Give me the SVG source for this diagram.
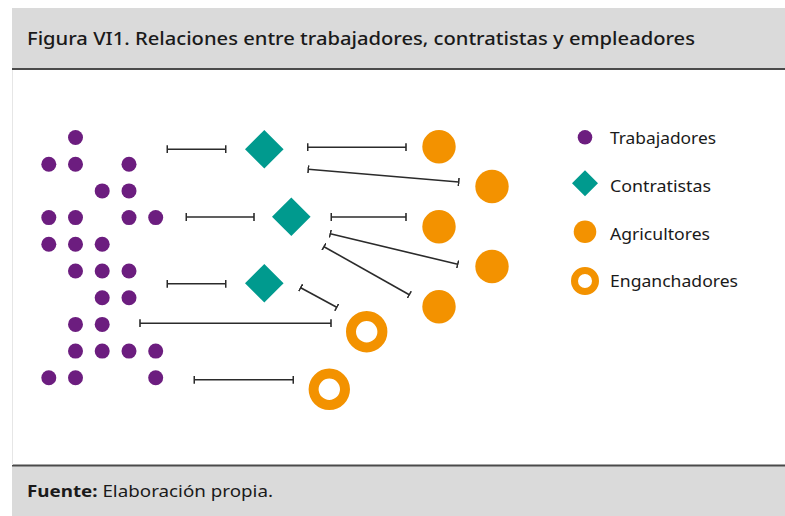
<svg xmlns="http://www.w3.org/2000/svg" width="785" height="516" viewBox="0 0 785 516">
<defs>
<style>
.t{font-family:"Noto Sans","Open Sans","Liberation Sans",sans-serif;fill:#1a1a1a}
.lg{font-size:16.8px}
.w{fill:#6C1D7F}
.c{fill:#009A8E}
.a{fill:#F39200}
.e{fill:none;stroke:#F39200;stroke-width:10}
.ln{stroke:#2b2b2b;stroke-width:1.6;fill:none;marker-start:url(#bar);marker-end:url(#bar)}
</style>
<marker id="bar" viewBox="-1 -4 2 8" markerUnits="userSpaceOnUse" markerWidth="2" markerHeight="8" refX="0" refY="0" orient="auto">
<path d="M0,-4V4" stroke="#2b2b2b" stroke-width="1.6"/>
</marker>
</defs>
<rect x="0" y="0" width="785" height="516" fill="#fff"/>
<g id="frame">
<rect x="12" y="8" width="773" height="61" fill="#DADADA"/>
<rect x="12" y="466" width="773" height="50" fill="#DADADA"/>
<line x1="12" y1="69" x2="785" y2="69" stroke="#4a4a4a" stroke-width="2"/>
<line x1="12" y1="465.5" x2="785" y2="465.5" stroke="#4a4a4a" stroke-width="2"/>
<line x1="12.5" y1="70" x2="12.5" y2="465" stroke="#e6e6e6" stroke-width="1"/>
<text class="t" x="27" y="45" font-size="17.5" font-weight="500" textLength="668" lengthAdjust="spacingAndGlyphs">Figura VI1. Relaciones entre trabajadores, contratistas y empleadores</text>
<text class="t" x="27" y="497" font-size="16" textLength="246" lengthAdjust="spacingAndGlyphs"><tspan font-weight="bold">Fuente:</tspan> Elaboración propia.</text>
</g>
<g id="trabajadores">
<circle class="w" cx="75.5" cy="137.5" r="7.5"/>
<circle class="w" cx="48.8" cy="164.2" r="7.5"/><circle class="w" cx="75.5" cy="164.2" r="7.5"/><circle class="w" cx="129" cy="164.2" r="7.5"/>
<circle class="w" cx="102.2" cy="190.9" r="7.5"/><circle class="w" cx="129" cy="190.9" r="7.5"/>
<circle class="w" cx="48.8" cy="217.6" r="7.5"/><circle class="w" cx="75.5" cy="217.6" r="7.5"/><circle class="w" cx="129" cy="217.6" r="7.5"/><circle class="w" cx="155.7" cy="217.6" r="7.5"/>
<circle class="w" cx="48.8" cy="244.3" r="7.5"/><circle class="w" cx="75.5" cy="244.3" r="7.5"/><circle class="w" cx="102.2" cy="244.3" r="7.5"/>
<circle class="w" cx="75.5" cy="271" r="7.5"/><circle class="w" cx="102.2" cy="271" r="7.5"/><circle class="w" cx="129" cy="271" r="7.5"/>
<circle class="w" cx="102.2" cy="297.7" r="7.5"/><circle class="w" cx="129" cy="297.7" r="7.5"/>
<circle class="w" cx="75.5" cy="324.4" r="7.5"/><circle class="w" cx="102.2" cy="324.4" r="7.5"/>
<circle class="w" cx="75.5" cy="351.1" r="7.5"/><circle class="w" cx="102.2" cy="351.1" r="7.5"/><circle class="w" cx="129" cy="351.1" r="7.5"/><circle class="w" cx="155.7" cy="351.1" r="7.5"/>
<circle class="w" cx="48.8" cy="377.8" r="7.5"/><circle class="w" cx="75.5" cy="377.8" r="7.5"/><circle class="w" cx="155.7" cy="377.8" r="7.5"/>
</g>
<g id="contratista1"><path class="c" d="M264.3,130L283.6,149.3L264.3,168.6L245,149.3Z"/></g>
<g id="contratista2"><path class="c" d="M291.3,197.4L310.6,216.7L291.3,236L272,216.7Z"/></g>
<g id="contratista3"><path class="c" d="M264.3,264L283.6,283.3L264.3,302.6L245,283.3Z"/></g>
<g id="agricultor1"><circle class="a" cx="439" cy="146.7" r="16.7"/></g>
<g id="agricultor2"><circle class="a" cx="492" cy="186.5" r="16.7"/></g>
<g id="agricultor3"><circle class="a" cx="439" cy="226.7" r="16.7"/></g>
<g id="agricultor4"><circle class="a" cx="492" cy="266.5" r="16.7"/></g>
<g id="agricultor5"><circle class="a" cx="439" cy="306.7" r="16.7"/></g>
<g id="enganchador1"><circle class="e" cx="366.7" cy="331.7" r="15.7"/></g>
<g id="enganchador2"><circle class="e" cx="329.3" cy="389.3" r="15.7"/></g>
<g id="connectors">
<line class="ln" x1="167.3" y1="149.3" x2="225.7" y2="149.3"/>
<line class="ln" x1="307.7" y1="147.3" x2="406" y2="147.3"/>
<line class="ln" x1="308.3" y1="169.3" x2="458.7" y2="182"/>
<line class="ln" x1="186.3" y1="217" x2="254" y2="217"/>
<line class="ln" x1="331.3" y1="217" x2="406" y2="217"/>
<line class="ln" x1="330.3" y1="233.7" x2="457.7" y2="264.3"/>
<line class="ln" x1="324" y1="246.7" x2="409.3" y2="294.7"/>
<line class="ln" x1="167.3" y1="283.7" x2="225.7" y2="283.7"/>
<line class="ln" x1="300.7" y1="287.7" x2="336.7" y2="307.3"/>
<line class="ln" x1="140" y1="323.3" x2="331" y2="323.3"/>
<line class="ln" x1="194.3" y1="379.7" x2="293.3" y2="379.7"/>
</g>
<g id="legend">
<circle class="w" cx="585" cy="137.3" r="7.3"/>
<text class="t lg" x="610" y="143.5" textLength="106" lengthAdjust="spacingAndGlyphs">Trabajadores</text>
<path class="c" d="M585,170.3L598,183.3L585,196.3L572,183.3Z"/>
<text class="t lg" x="610" y="191.5" textLength="101" lengthAdjust="spacingAndGlyphs">Contratistas</text>
<circle class="a" cx="585" cy="231.7" r="11.3"/>
<text class="t lg" x="610" y="239.5" textLength="100" lengthAdjust="spacingAndGlyphs">Agricultores</text>
<circle cx="585" cy="281" r="10.5" fill="none" stroke="#F39200" stroke-width="7"/>
<text class="t lg" x="610" y="287" textLength="128" lengthAdjust="spacingAndGlyphs">Enganchadores</text>
</g>
</svg>
